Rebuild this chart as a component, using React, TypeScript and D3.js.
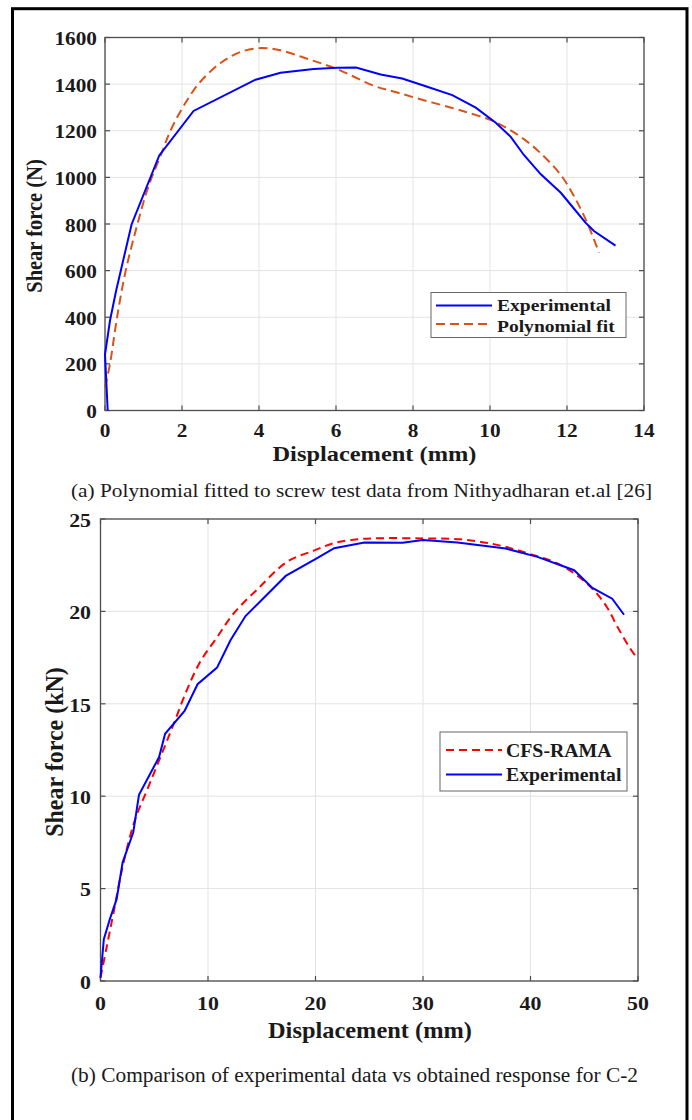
import React from "react";
import * as d3 from "d3";

// ---------- data ----------
const topXTicks = [0, 2, 4, 6, 8, 10, 12, 14];
const topYTicks = [0, 200, 400, 600, 800, 1000, 1200, 1400, 1600];
const botXTicks = [0, 10, 20, 30, 40, 50];
const botYTicks = [0, 5, 10, 15, 20, 25];

const topLegend = ["Experimental", "Polynomial fit"];
const botLegend = ["CFS-RAMA", "Experimental"];

const topExperimental: [number, number][] = [
  [0.07, 0], [0.0, 240], [0.13, 386], [0.29, 515], [0.69, 798], [1.41, 1094],
  [2.3, 1285], [3.91, 1419], [4.56, 1449], [5.42, 1465], [6.03, 1470], [6.52, 1471],
  [7.16, 1441], [7.72, 1424], [8.37, 1389], [9.02, 1353], [9.63, 1299], [10.15, 1234],
  [10.54, 1174], [10.88, 1096], [11.32, 1013], [11.84, 934], [12.14, 874], [12.48, 806],
  [12.7, 770], [13.26, 707],
];

const topPolyFit: [number, number][] = [
  [0, 100], [0.13, 200], [0.3, 386], [0.52, 586], [0.82, 786], [1.12, 957],
  [1.46, 1100], [1.72, 1207], [2.07, 1314], [2.46, 1407], [3.02, 1493], [3.54, 1539],
  [4.06, 1555], [4.58, 1544], [5.27, 1508], [6.02, 1465], [7.0, 1392], [7.59, 1364],
  [8.28, 1331], [8.97, 1300], [9.5, 1274], [10.02, 1246], [10.45, 1210], [10.88, 1164],
  [11.32, 1103], [11.84, 1010], [12.19, 917], [12.53, 803], [12.83, 677],
];

const botExperimental: [number, number][] = [
  [0, 0.18], [0.31, 2.26], [0.87, 3.35], [1.5, 4.43], [2.06, 6.42], [3.05, 8.05],
  [3.58, 10.07], [5.45, 12.12], [6.01, 13.38], [7.82, 14.61], [9.03, 16.06], [10.84, 16.96],
  [12.09, 18.44], [13.49, 19.75], [15.2, 20.74], [17.23, 21.92], [20.03, 22.84], [21.74, 23.42],
  [24.55, 23.73], [28.1, 23.71], [30, 23.86], [33.2, 23.73], [37.7, 23.4], [40.65, 22.95],
  [44.06, 22.23], [45.76, 21.27], [47.6, 20.69], [48.7, 19.82],
];

const botCfsRama: [number, number][] = [
  [0, 0.18], [0.56, 1.8], [1.18, 3.6], [2.1, 6.3], [3.2, 8.7], [4.45, 10.5],
  [5.7, 12.3], [6.8, 13.9], [8.0, 15.7], [9.3, 17.3], [10.84, 18.6], [12.4, 19.9],
  [14.6, 21.2], [17.4, 22.7], [19.9, 23.3], [21.74, 23.7], [23.9, 23.9], [26.1, 23.96],
  [30, 23.95], [33.5, 23.9], [36.9, 23.6], [40.0, 23.1], [42.5, 22.6], [44.3, 21.96],
  [45.9, 21.14], [47.1, 20.24], [48.1, 19.15], [49.2, 18.06], [50, 17.4],
];

// ---------- styling ----------
const FONT = "Liberation Serif, Times New Roman, serif";
const SX = 1.12;
const BLUE = "#0000ff";
const ORANGE = "#d95319";
const RED = "#ff0000";
const AX = "#4d4d4d";
const GRID = "#e3e3e3";

type TProps = {
  x: number; y: number; size: number; anchor?: string; weight?: string;
  rotate?: boolean; sx?: number; children: React.ReactNode;
};
function T({ x, y, size, anchor = "start", weight = "bold", rotate = false, sx = SX, children }: TProps) {
  return (
    <text
      transform={`translate(${x},${y}) scale(${sx},1)${rotate ? " rotate(-90)" : ""}`}
      textAnchor={anchor as any}
      fontSize={size}
      fontWeight={weight}
      fontFamily={FONT}
      fill="#1a1a1a"
    >
      {children}
    </text>
  );
}

type PanelProps = {
  x: d3.ScaleLinear<number, number>;
  y: d3.ScaleLinear<number, number>;
  xTicks: number[];
  yTicks: number[];
  tickSize: number;
  xLabelY: number;
  yLabelRight: number;
};

function Frame({ x, y, xTicks, yTicks, tickSize, xLabelY, yLabelRight }: PanelProps) {
  const [x0, x1] = x.range();
  const [y0, y1] = y.range();
  const tl = 5;
  return (
    <g>
      {xTicks.map((t) => (
        <line key={"gx" + t} x1={x(t)} x2={x(t)} y1={y0} y2={y1} stroke={GRID} strokeWidth={1} />
      ))}
      {yTicks.map((t) => (
        <line key={"gy" + t} x1={x0} x2={x1} y1={y(t)} y2={y(t)} stroke={GRID} strokeWidth={1} />
      ))}
      <rect x={x0} y={y1} width={x1 - x0} height={y0 - y1} fill="none" stroke={AX} strokeWidth={1.3} />
      {xTicks.map((t) => (
        <g key={"tx" + t}>
          <line x1={x(t)} x2={x(t)} y1={y0} y2={y0 - tl} stroke={AX} strokeWidth={1.2} />
          <line x1={x(t)} x2={x(t)} y1={y1} y2={y1 + tl} stroke={AX} strokeWidth={1.2} />
          <T x={x(t)} y={xLabelY} size={tickSize} anchor="middle">{t}</T>
        </g>
      ))}
      {yTicks.map((t) => (
        <g key={"ty" + t}>
          <line x1={x0} x2={x0 + tl} y1={y(t)} y2={y(t)} stroke={AX} strokeWidth={1.2} />
          <line x1={x1} x2={x1 - tl} y1={y(t)} y2={y(t)} stroke={AX} strokeWidth={1.2} />
          <T x={yLabelRight} y={y(t) + tickSize * 0.4} size={tickSize} anchor="end">{t}</T>
        </g>
      ))}
    </g>
  );
}

export default function App() {
  const xT = d3.scaleLinear().domain([0, 14]).range([105, 644]);
  const yT = d3.scaleLinear().domain([0, 1600]).range([410.5, 37.5]);
  const xB = d3.scaleLinear().domain([0, 50]).range([100.5, 638]);
  const yB = d3.scaleLinear().domain([0, 25]).range([981, 519]);

  const lineT = d3.line<[number, number]>().x((d) => xT(d[0])).y((d) => yT(d[1]));
  const smoothT = d3.line<[number, number]>().x((d) => xT(d[0])).y((d) => yT(d[1])).curve(d3.curveCatmullRom);
  const lineB = d3.line<[number, number]>().x((d) => xB(d[0])).y((d) => yB(d[1]));
  const smoothB = d3.line<[number, number]>().x((d) => xB(d[0])).y((d) => yB(d[1])).curve(d3.curveCatmullRom);

  return (
    <div style={{ position: "absolute", left: 0, top: 0 }}>
      <svg width={692} height={1120} style={{ display: "block", background: "#fff" }}>
        <rect x={0} y={0} width={692} height={1120} fill="#fff" />
        {/* outer frame */}
        <rect x={12.5} y={8.7} width={674.5} height={1120} fill="none" stroke="#000" strokeWidth={3} />

        {/* ---------- Top chart ---------- */}
        <Frame x={xT} y={yT} xTicks={topXTicks} yTicks={topYTicks} tickSize={19} xLabelY={437} yLabelRight={97} />
        <path d={smoothT(topPolyFit) || ""} fill="none" stroke={ORANGE} strokeWidth={2} strokeDasharray="9,5" />
        <path d={lineT(topExperimental) || ""} fill="none" stroke={BLUE} strokeWidth={2} />
        <text x={374.5} y={461} textAnchor="middle" fontSize={22} fontWeight="bold" fontFamily={FONT}
          fill="#1a1a1a" textLength={204} lengthAdjust="spacingAndGlyphs">Displacement (mm)</text>
        <T x={41.5} y={226} size={20.5} anchor="middle" rotate>Shear force (N)</T>

        {/* top legend */}
        <rect x={431} y={292.5} width={195} height={45} fill="#fff" stroke="#666" strokeWidth={1} />
        <line x1={436} x2={492} y1={305.5} y2={305.5} stroke={BLUE} strokeWidth={2} />
        <line x1={436} x2={492} y1={324} y2={324} stroke={ORANGE} strokeWidth={2} strokeDasharray="9,5" />
        <T x={497} y={311} size={17} sx={1.15}>{topLegend[0]}</T>
        <T x={497} y={331.5} size={17} sx={1.15}>{topLegend[1]}</T>

        <text x={71} y={496.5} fontSize={19.5} fontFamily={FONT} fill="#1a1a1a"
          textLength={581} lengthAdjust="spacingAndGlyphs">
          (a) Polynomial fitted to screw test data from Nithyadharan et.al [26]
        </text>

        {/* ---------- Bottom chart ---------- */}
        <Frame x={xB} y={yB} xTicks={botXTicks} yTicks={botYTicks} tickSize={19.5} xLabelY={1010} yLabelRight={91} />
        <path d={smoothB(botCfsRama) || ""} fill="none" stroke={RED} strokeWidth={2} strokeDasharray="8,5" />
        <path d={lineB(botExperimental) || ""} fill="none" stroke={BLUE} strokeWidth={2} />
        <text x={370} y={1038} textAnchor="middle" fontSize={23} fontWeight="bold" fontFamily={FONT}
          fill="#1a1a1a" textLength={204} lengthAdjust="spacingAndGlyphs">Displacement (mm)</text>
        <T x={63} y={752} size={24} anchor="middle" rotate sx={1.05}>Shear force (kN)</T>

        {/* bottom legend */}
        <rect x={440} y={732} width={187} height={59} fill="#fff" stroke="#666" strokeWidth={1} />
        <line x1={446} x2={502} y1={750} y2={750} stroke={RED} strokeWidth={2} strokeDasharray="8,5" />
        <line x1={446} x2={502} y1={774.5} y2={774.5} stroke={BLUE} strokeWidth={2} />
        <T x={506} y={756.5} size={18} sx={1.1}>{botLegend[0]}</T>
        <T x={506} y={781} size={18} sx={1.1}>{botLegend[1]}</T>

        <text x={71} y={1082} fontSize={20} fontFamily={FONT} fill="#1a1a1a"
          textLength={567} lengthAdjust="spacingAndGlyphs">
          (b) Comparison of experimental data vs obtained response for C-2
        </text>
      </svg>
    </div>
  );
}
